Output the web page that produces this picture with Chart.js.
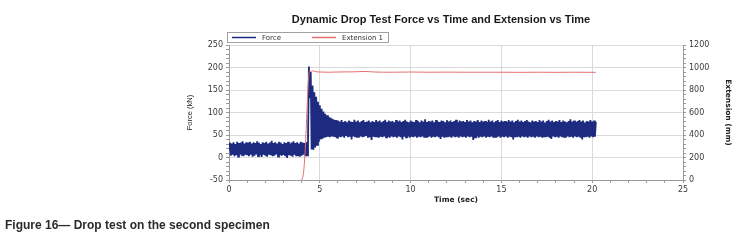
<!DOCTYPE html>
<html>
<head>
<meta charset="utf-8">
<script src="https://cdn.jsdelivr.net/npm/chart.js@4/dist/chart.umd.min.js"></script>
<style>
  html, body { margin: 0; padding: 0; background: #fff; }
  #wrap { position: relative; width: 738px; height: 249px; }
  #caption { position: absolute; left: 5px; top: 218px; font: bold 12px "Liberation Sans", Arial, sans-serif; color: #2b2b2b; white-space: nowrap; }
</style>
</head>
<body>
<div id="wrap">
  <canvas id="c" width="738" height="249"></canvas>
  <div id="caption">Figure 16— Drop test on the second specimen</div>
</div>
<script>
// ---- Data ----
const chartTitle = 'Dynamic Drop Test Force vs Time and Extension vs Time';
const forceLabel = 'Force';
const extensionLabel = 'Extension 1';

// Force (kN), sampled every 0.05 s from 0 s to 20.2 s
const forceSampleInterval = 0.05;
const forceValues = [
  18, 33, 4, 31, 6, 34, 3, 30, 5, 35, 2, 32, 7, 33, 4, 36, 3, 31, 6, 34,
  5, 33, 3, 35, 6, 31, 2, 34, 4, 32, 7, 36, 3, 33, 5, 30, 1, 34, 6, 32,
  4, 35, 2, 31, 6, 33, 5, 37, 3, 32, 4, 34, 7, 31, 2, 35, 5, 33, 4, 30,
  6, 34, 3, 32, -1, 35, 5, 31, 4, 33, 2, 36, 6, 32, 3, 34, 5, 31, 2, 35,
  4, 33, 6, 32, 3, 34, 5, 31, 202, 132, 190, 18, 160, 17, 145, 22, 135, 28, 124, 35,
  116, 40, 108, 42, 102, 44, 97, 45, 94, 46, 90, 45, 88, 47, 86, 46, 84, 45, 83, 44,
  82, 46, 80, 45, 83, 47, 79, 44, 81, 48, 78, 45, 82, 46, 80, 40, 79, 47, 84, 45,
  80, 46, 82, 44, 78, 47, 81, 45, 83, 46, 79, 48, 80, 44, 82, 45, 78, 39, 81, 46,
  79, 45, 83, 47, 80, 44, 82, 46, 78, 45, 81, 47, 84, 45, 79, 46, 82, 44, 80, 47,
  81, 45, 78, 46, 83, 44, 80, 47, 82, 45, 79, 40, 81, 46, 84, 45, 80, 47, 78, 44,
  82, 46, 80, 45, 79, 47, 83, 44, 81, 46, 78, 45, 82, 47, 80, 44, 85, 46, 79, 45,
  81, 47, 80, 44, 82, 46, 78, 45, 83, 47, 80, 45, 79, 41, 82, 46, 81, 44, 78, 47,
  83, 45, 80, 46, 82, 44, 79, 47, 81, 45, 84, 46, 78, 44, 82, 47, 80, 45, 81, 46,
  79, 44, 83, 47, 80, 45, 82, 46, 78, 39, 81, 45, 80, 47, 83, 44, 79, 46, 82, 45,
  80, 47, 81, 44, 79, 46, 84, 45, 80, 47, 82, 44, 78, 46, 81, 45, 83, 47, 79, 44,
  82, 46, 80, 45, 81, 47, 79, 44, 83, 46, 80, 45, 82, 40, 78, 47, 81, 45, 84, 46,
  80, 44, 82, 47, 79, 45, 81, 46, 83, 44, 80, 47, 78, 45, 82, 46, 80, 44, 81, 47,
  79, 45, 83, 46, 80, 44, 82, 47, 78, 45, 81, 46, 84, 44, 80, 41, 82, 47, 79, 45,
  81, 46, 80, 44, 83, 47, 79, 45, 82, 46, 80, 44, 78, 47, 81, 45, 85, 46, 80, 44,
  82, 47, 79, 45, 81, 46, 83, 44, 80, 40, 82, 47, 78, 45, 81, 46, 80, 44, 83, 47,
  80, 45, 82, 46, 79
];

// Extension (mm)
const extensionTimes  = [4.0, 4.05, 4.1, 4.15, 4.2, 4.25, 4.3, 4.35, 4.4, 4.45, 4.5, 4.6, 4.8, 5.0, 5.5, 6, 7, 7.5, 8, 9, 10, 11, 12, 13, 14, 15, 16, 17, 18, 19, 20.2];
const extensionValues = [0, 20, 60, 150, 280, 450, 640, 820, 940, 968, 965, 970, 962, 960, 958, 960, 962, 965, 960, 958, 960, 958, 959, 958, 958, 958, 957, 958, 957, 958, 957];

// Axis tick labels
const timeTickLabels = [0, 5, 10, 15, 20, 25];
const forceTickLabels = [-50, 0, 50, 100, 150, 200, 250];
const extensionTickLabels = [0, 200, 400, 600, 800, 1000, 1200];
const timeMinorStep = 1, forceMinorStep = 10, extensionMinorStep = 40;

// ---- Build chart ----
const FONT = '"Liberation Sans", Arial, sans-serif';
const WFONT = '"DejaVu Sans", Verdana, sans-serif';
const GRID = '#dadada';
const AXIS = '#9a9a9a';
const TICKTXT = '#3a3a3a';
const NAVY = '#1c2a80';
const RED = '#e46f6f';

function minorTicks(min, max, step) {
  const out = [];
  for (let v = min; v <= max + 1e-9; v += step) out.push({ value: Math.round(v * 1000) / 1000 });
  return out;
}

const forceData = forceValues.map((v, i) => ({ x: Math.round(i * forceSampleInterval * 100) / 100, y: v }));
const extensionData = extensionTimes.map((t, i) => ({ x: t, y: extensionValues[i] }));

const titleLegendPlugin = {
  id: 'titleLegend',
  afterDraw(chart) {
    const ctx = chart.ctx;
    ctx.save();
    ctx.fillStyle = '#1a1a1a';
    ctx.font = 'bold 11px ' + FONT;
    ctx.textAlign = 'center';
    ctx.textBaseline = 'middle';
    ctx.fillText(chartTitle, 441, 20);
    ctx.strokeStyle = '#a0a0a0';
    ctx.lineWidth = 1;
    ctx.strokeRect(227.5, 32.5, 161, 10);
    const items = [
      { ds: chart.data.datasets[1], x: 232 },
      { ds: chart.data.datasets[0], x: 312 }
    ];
    ctx.font = '7px ' + WFONT;
    ctx.textAlign = 'left';
    items.forEach(it => {
      ctx.strokeStyle = it.ds.borderColor;
      ctx.lineWidth = 1.5;
      ctx.beginPath();
      ctx.moveTo(it.x, 37.5);
      ctx.lineTo(it.x + 24, 37.5);
      ctx.stroke();
      ctx.fillStyle = '#333';
      ctx.fillText(it.ds.label, it.x + 30, 37.8);
    });
    ctx.restore();
  }
};

new Chart(document.getElementById('c'), {
  type: 'line',
  data: {
    datasets: [
      { label: extensionLabel, data: extensionData, yAxisID: 'y1', borderColor: RED, borderWidth: 1, pointRadius: 0, fill: false, cubicInterpolationMode: 'monotone', order: 1 },
      { label: forceLabel, data: forceData, yAxisID: 'y', borderColor: NAVY, borderWidth: 1.8, pointRadius: 0, fill: false, tension: 0, order: 2 }
    ]
  },
  options: {
    responsive: false,
    animation: false,
    layout: { padding: { left: 181, right: 2, top: 45, bottom: 40 } },
    plugins: { legend: { display: false }, title: { display: false }, tooltip: { enabled: false } },
    scales: {
      x: {
        type: 'linear', position: 'bottom', min: 0, max: 25,
        afterBuildTicks: s => { s.ticks = minorTicks(0, 25, timeMinorStep); },
        afterFit: s => { s.height = 29; },
        ticks: { autoSkip: false, maxRotation: 0, padding: 2, color: TICKTXT, font: { family: WFONT, size: 8 },
          callback: v => timeTickLabels.includes(v) ? String(v) : '' },
        grid: { color: c => (c.tick && timeTickLabels.includes(c.tick.value) && c.tick.value > 0 && c.tick.value < 25) ? GRID : 'rgba(0,0,0,0)',
          tickColor: AXIS, tickLength: 3 },
        border: { color: AXIS },
        title: { display: true, text: 'Time (sec)', color: '#222', font: { family: WFONT, size: 7.5, weight: 'bold' }, padding: { top: 2, bottom: 4 } }
      },
      y: {
        type: 'linear', position: 'left', min: -50, max: 250,
        afterBuildTicks: s => { s.ticks = minorTicks(-50, 250, forceMinorStep); },
        afterFit: s => { s.width = 48; },
        ticks: { autoSkip: false, padding: 3, color: TICKTXT, font: { family: WFONT, size: 8 },
          callback: v => forceTickLabels.includes(v) ? String(v) : '' },
        grid: { color: c => (c.tick && forceTickLabels.includes(c.tick.value) && c.tick.value > -50) ? GRID : 'rgba(0,0,0,0)',
          tickColor: AXIS, tickLength: 3 },
        border: { color: AXIS },
        title: { display: true, text: 'Force (kN)', color: '#222', font: { family: FONT, size: 7.5 }, padding: { top: 4, bottom: 4 } }
      },
      y1: {
        type: 'linear', position: 'right', min: 0, max: 1200,
        afterBuildTicks: s => { s.ticks = minorTicks(0, 1200, extensionMinorStep); },
        afterFit: s => { s.width = 53; },
        ticks: { autoSkip: false, padding: 3, color: TICKTXT, font: { family: WFONT, size: 8 },
          callback: v => extensionTickLabels.includes(v) ? String(v) : '' },
        grid: { drawOnChartArea: false, tickColor: AXIS, tickLength: 3 },
        border: { color: AXIS },
        title: { display: true, text: 'Extension (mm)', color: '#222', font: { family: WFONT, size: 7.5, weight: 'bold' }, padding: { top: 4, bottom: 4 } }
      }
    }
  },
  plugins: [titleLegendPlugin]
});
</script>
</body>
</html>
